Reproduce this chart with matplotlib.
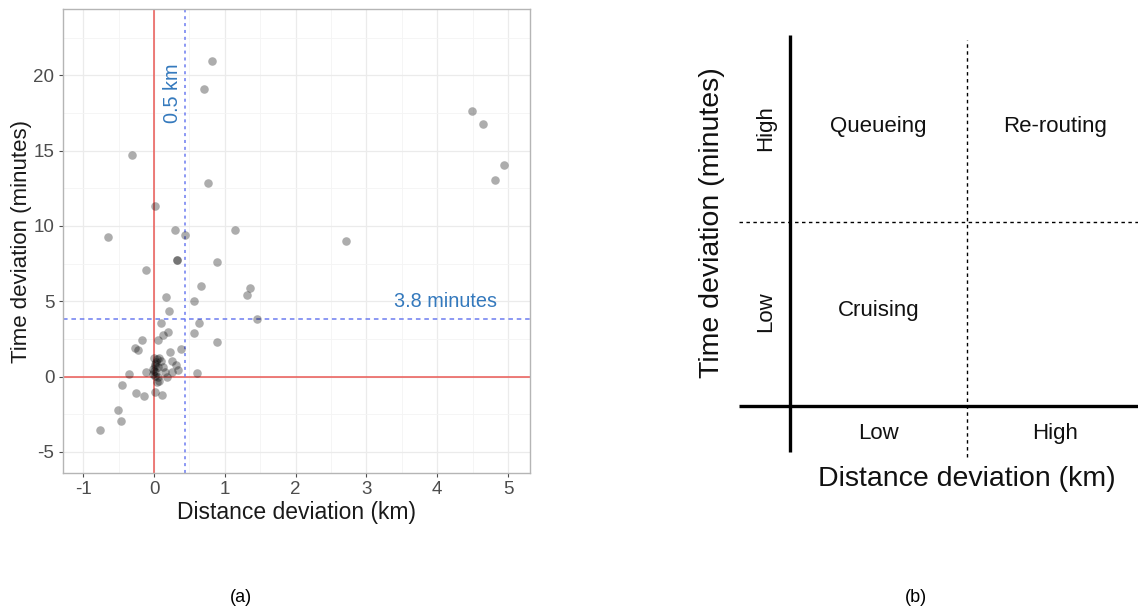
import matplotlib
matplotlib.use("Agg")
import matplotlib.pyplot as plt
from matplotlib.ticker import MultipleLocator

plt.rcParams["font.family"] = ["Liberation Sans", "DejaVu Sans"]
plt.rcParams["axes.unicode_minus"] = False

# ── Panel (a) data: distance deviation (km) vs time deviation (minutes) ──
dist_dev = [
    0.82, 0.71, 4.49, 4.65, -0.31, 4.94, 4.82, 0.76, 0.02, -0.65,
    0.30, 0.44, 1.14, 2.71, 0.33, 0.33, 0.89, -0.11, 0.67, 1.35,
    1.32, 0.17, 0.57, 0.21, 1.46, 0.10, 0.63, 0.20, 0.12, 0.57,
    -0.17, 0.06, 0.89, -0.27, -0.23, 0.38, 0.23, 0.26, 0.31, 0.34,
    0.60, -0.35, -0.12, -0.45, -0.25, -0.14, 0.01, 0.11, -0.51, -0.46,
    -0.77,
    # dense cluster near the origin
    0.04, 0.075, 0.02, 0.05, 0.005, 0.03, -0.01, 0.02, 0.05, 0.075,
    0.04, 0.12, 0.16, 0.18, 0.25, 0.10, 0.005, 0.015, -0.02, 0.03,
]
time_dev = [
    20.95, 19.10, 17.65, 16.75, 14.73, 14.03, 13.08, 12.88, 11.32, 9.27,
    9.72, 9.42, 9.72, 8.99, 7.71, 7.71, 7.62, 7.05, 5.99, 5.90,
    5.42, 5.27, 4.99, 4.38, 3.82, 3.57, 3.53, 2.98, 2.76, 2.87,
    2.46, 2.46, 2.31, 1.90, 1.74, 1.85, 1.65, 1.06, 0.79, 0.43,
    0.23, 0.20, 0.32, -0.59, -1.11, -1.31, -1.02, -1.24, -2.21, -2.98,
    -3.57,
    1.15, 1.26, 0.83, 0.61, 0.39, 0.28, 0.17, 0.07, -0.04, -0.26,
    -0.33, 0.61, 0.28, -0.04, 0.28, 1.05, 1.26, 0.72, 0.50, 0.95,
]

DIST_CUT = 0.44     # "0.5 km" threshold line
TIME_CUT = 3.85     # "3.8 minutes" threshold line

# ── Panel (b) labels ──
level_names = ["Low", "High"]
quadrant_labels = {(0, 1): "Queueing", (1, 1): "Re-routing", (0, 0): "Cruising"}

fig = plt.figure(figsize=(11.38, 6.12), dpi=100)

# ── Panel (a): scatter ────────────────────────────────────────────────
ax = fig.add_axes([0.0551, 0.2271, 0.4106, 0.7577])
ax.set_xlim(-1.29, 5.31)
ax.set_ylim(-6.4, 24.38)
ax.xaxis.set_major_locator(MultipleLocator(1))
ax.xaxis.set_minor_locator(MultipleLocator(0.5))
ax.yaxis.set_major_locator(MultipleLocator(5))
ax.yaxis.set_minor_locator(MultipleLocator(2.5))
ax.grid(True, which="major", color="#EBEBEB", linewidth=0.9, zorder=0)
ax.grid(True, which="minor", color="#F4F4F4", linewidth=0.6, zorder=0)
ax.set_axisbelow(True)
for sp in ax.spines.values():
    sp.set_color("#B5B5B5")
    sp.set_linewidth(1.0)
ax.tick_params(which="major", length=3, color="#4D4D4D", labelcolor="#4D4D4D",
               labelsize=13.5, width=0.8, pad=3)
ax.tick_params(which="minor", length=0)

ax.axhline(0, color="#EA5A55", linewidth=1.1, zorder=2)
ax.axvline(0, color="#EA5A55", linewidth=1.1, zorder=2)
ax.axvline(DIST_CUT, color="#6C7CF0", linewidth=1.1, linestyle=(0, (2, 2.5)), zorder=2)
ax.axhline(TIME_CUT, color="#6C7CF0", linewidth=1.1, linestyle=(0, (3, 2.5)), zorder=2)

ax.scatter(dist_dev, time_dev, s=38, color="black", alpha=0.32, linewidths=0, zorder=3)

ax.text(0.26, 18.8, "0.5 km", rotation=90, color="#3479BD", fontsize=14.3,
        ha="center", va="center")
ax.text(4.11, 5.0, "3.8 minutes", color="#3479BD", fontsize=14.3,
        ha="center", va="center")

ax.set_xlabel("Distance deviation (km)", fontsize=16.5, color="#1A1A1A", labelpad=2)
ax.set_ylabel("Time deviation (minutes)", fontsize=16, color="#1A1A1A", labelpad=1)

# ── Panel (b): conceptual quadrant diagram ────────────────────────────
bx = fig.add_axes([0.6476, 0.2467, 0.3524, 0.7059])
bx.set_xlim(-0.3, 1.97)
bx.set_ylim(-0.3, 2.05)
bx.axis("off")

bx.plot([-0.29, 1.97], [0, 0], color="black", linewidth=2.4, solid_capstyle="butt")
bx.plot([0, 0], [-0.25, 2.02], color="black", linewidth=2.4, solid_capstyle="butt")
bx.plot([-0.29, 1.97], [1, 1], color="black", linewidth=1.0, linestyle=(0, (2.5, 2.5)))
bx.plot([1, 1], [-0.28, 1.99], color="black", linewidth=1.0, linestyle=(0, (2.5, 2.5)))

for (i, j), lab in quadrant_labels.items():
    bx.text(i + 0.5, j + 0.52, lab, fontsize=16, ha="center", va="center", color="#111111")

for i, lab in enumerate(level_names):
    bx.text(i + 0.5, -0.15, lab, fontsize=16, ha="center", va="center", color="#111111")
    bx.text(-0.14, i + 0.51, lab, fontsize=16, rotation=90, ha="center", va="center",
            color="#111111")

bx.text(1.0, -0.40, "Distance deviation (km)", fontsize=20.5, ha="center", va="center",
        color="#111111")
bx.text(-0.44, 0.995, "Time deviation (minutes)", fontsize=20.5, rotation=90,
        ha="center", va="center", color="#111111")

fig.text(241 / 1138, 1 - 597 / 612, "(a)", fontsize=13, ha="center", va="center")
fig.text(916 / 1138, 1 - 597 / 612, "(b)", fontsize=13, ha="center", va="center")

fig.savefig("out.png", dpi=100)
